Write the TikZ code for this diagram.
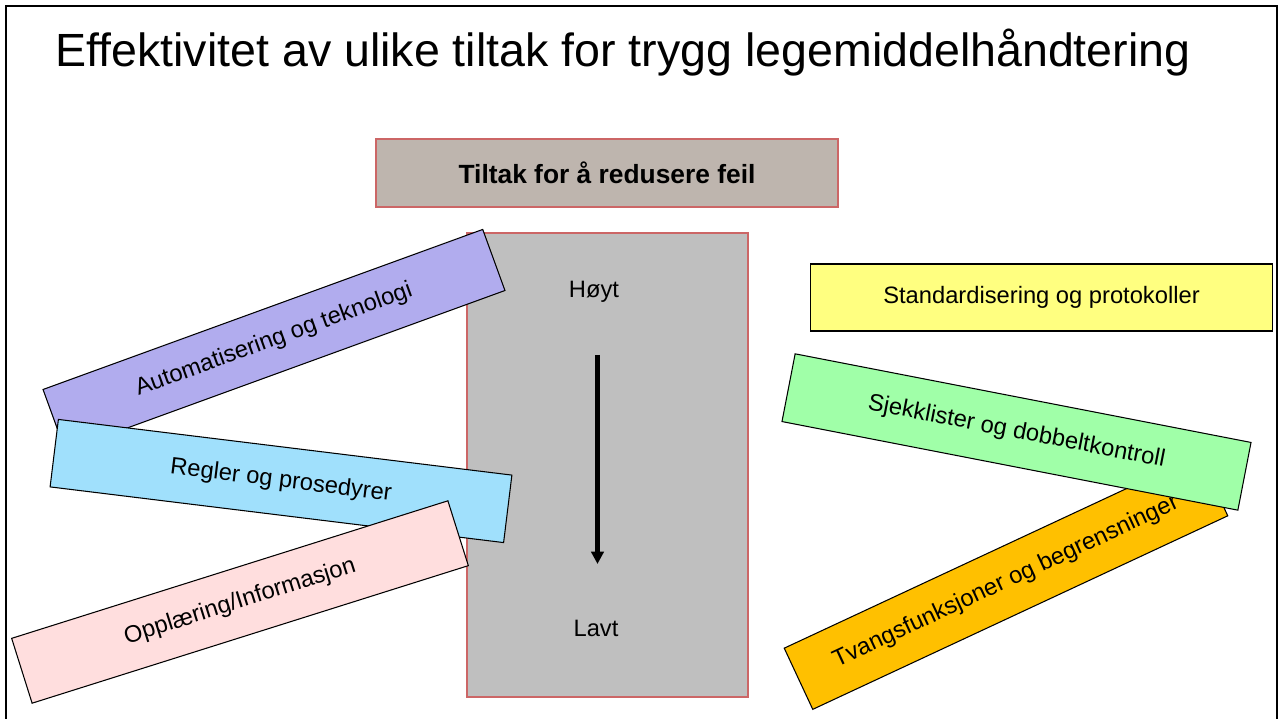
\documentclass[tikz,border=0pt]{standalone}
\usepackage{fontspec}
\setmainfont{Liberation Sans}
\usetikzlibrary{arrows.meta}

\definecolor{headfill}{RGB}{190,181,174}
\definecolor{redline}{RGB}{204,102,102}
\definecolor{scalefill}{RGB}{191,191,191}
\definecolor{autofill}{RGB}{177,172,238}
\definecolor{reglerfill}{RGB}{160,224,252}
\definecolor{opplfill}{RGB}{255,222,222}
\definecolor{stdfill}{RGB}{255,255,128}
\definecolor{sjekkfill}{RGB}{160,255,168}
\definecolor{tvangfill}{RGB}{255,192,0}

\begin{document}
\begin{tikzpicture}[x=0.02cm, y=-0.02cm,
    tiltak/.style={draw=black, line width=0.6pt, minimum width=9.2cm, minimum height=1.36cm,
                   inner sep=0pt, font=\fontsize{13.5}{16}\selectfont},
    label/.style={font=\fontsize{13.5}{16}\selectfont}]
    \useasboundingbox (0,0) rectangle (1285,719);

    % Frame and title
    \draw[line width=1.2pt] (6,740) -- (6,6) -- (1277,6) -- (1277,740);
    \node[anchor=base west, inner sep=0pt, font=\fontsize{26.5}{30}\selectfont] (title) at (55,67)
        {Effektivitet av ulike tiltak for trygg legemiddelhåndtering};

    % Header and scale
    \node[draw=redline, fill=headfill, line width=0.9pt, minimum width=9.24cm, minimum height=1.36cm,
          font=\fontsize{15}{18}\selectfont\bfseries] (head) at (607,173) {Tiltak for å redusere feil};
    \node[draw=redline, fill=scalefill, line width=0.9pt, minimum width=5.62cm, minimum height=9.28cm] (scale) at (607.5,465) {};
    \node[label] (hoy) at (594,292) {Høyt};
    \node[label] (lav) at (596,628) {Lavt};

    % Arrow high to low
    \coordinate (arrtop) at (597.5,355);
    \coordinate (arrbot) at (597.5,564);
    \draw[line width=2.3pt, -{Triangle[length=7pt, width=7pt]}] (arrtop) -- (arrbot);

    % Left boxes
    \node[tiltak, fill=autofill, rotate=20, minimum width=9.36cm, minimum height=1.3cm] (auto) at (274,340) {Automatisering og teknologi};
    \node[tiltak, fill=reglerfill, rotate=-7, minimum width=9.14cm] (regler) at (281,481) {Regler og prosedyrer};
    \node[tiltak, fill=opplfill, rotate=17.5, minimum width=9.15cm] (oppl) at (240,602) {Opplæring/Informasjon};

    % Right boxes
    \node[tiltak, fill=stdfill, minimum width=9.26cm, minimum height=1.34cm] (std) at (1041.5,297.5) {Standardisering og protokoller};
    \node[tiltak, fill=tvangfill, rotate=25, minimum width=9.16cm, minimum height=1.35cm] (tvang) at (1006,582) {Tvangsfunksjoner og begrensninger};
    \node[tiltak, fill=sjekkfill, rotate=-11, minimum width=9.29cm, minimum height=1.38cm] (sjekk) at (1016.5,432) {Sjekklister og dobbeltkontroll};

\end{tikzpicture}
\end{document}
